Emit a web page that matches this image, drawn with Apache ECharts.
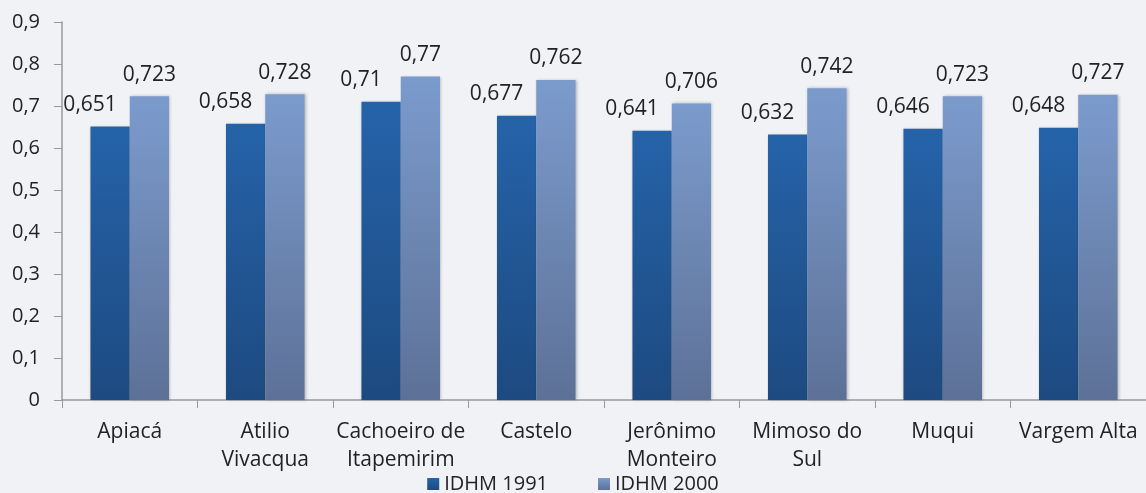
<!DOCTYPE html>
<html>
<head>
<meta charset="utf-8">
<script src="https://cdn.jsdelivr.net/npm/echarts@6/dist/echarts.min.js"></script>
<style>
  html, body { margin: 0; padding: 0; background: #f0f2f5; }
  #chart { width: 1146px; height: 493px; }
</style>
</head>
<body>
<div id="chart"></div>
<script>
var municipios = ['Apiacá', 'Atilio\nVivacqua', 'Cachoeiro de\nItapemirim', 'Castelo', 'Jerônimo\nMonteiro', 'Mimoso do\nSul', 'Muqui', 'Vargem Alta'];
var idhm1991 = [0.651, 0.658, 0.71, 0.677, 0.641, 0.632, 0.646, 0.648];
var idhm2000 = [0.723, 0.728, 0.77, 0.762, 0.706, 0.742, 0.723, 0.727];

var myChart = echarts.init(document.getElementById('chart'));

// virgula como separador decimal
function virgula(v) {
  return String(v).replace('.', ',');
}

var fonte = '"Open Sans", "Noto Sans", sans-serif';

var option = {
  backgroundColor: '#f0f2f5',
  textStyle: { fontFamily: fonte },
  legend: {
    bottom: -6,
    left: 'center',
    itemWidth: 12,
    itemHeight: 12,
    itemGap: 50,
    icon: 'rect',
    textStyle: { fontSize: 20, color: '#222', fontFamily: fonte },
    data: ['IDHM 1991', 'IDHM 2000']
  },
  grid: {
    left: 62,
    right: 0,
    top: 22,
    bottom: 93
  },
  xAxis: {
    type: 'category',
    data: municipios,
    axisLine: { lineStyle: { color: '#999', width: 1.5 } },
    axisTick: { show: true, length: 8, lineStyle: { color: '#999' } },
    axisLabel: {
      color: '#222',
      fontSize: 21,
      lineHeight: 28,
      margin: 18,
      interval: 0,
      fontFamily: fonte
    }
  },
  yAxis: {
    type: 'value',
    min: 0,
    max: 0.9,
    interval: 0.1,
    axisLine: { show: true, lineStyle: { color: '#999', width: 1.5 } },
    axisTick: { show: true, length: 8, lineStyle: { color: '#999' } },
    splitLine: { show: false },
    axisLabel: {
      color: '#222',
      fontSize: 20,
      margin: 22,
      fontFamily: fonte,
      formatter: function (v) { return virgula(Math.round(v * 10) / 10); }
    }
  },
  series: [
    {
      name: 'IDHM 1991',
      type: 'bar',
      data: idhm1991,
      barGap: 0,
      barCategoryGap: '42%',
      itemStyle: {
        color: new echarts.graphic.LinearGradient(0, 0, 0, 1, [
          { offset: 0, color: '#2563a9' },
          { offset: 1, color: '#1d4a80' }
        ]),
        shadowColor: 'rgba(0,0,0,0.25)',
        shadowBlur: 3,
        shadowOffsetX: 1
      },
      label: {
        show: true,
        position: 'top',
        offset: [-20, -6],
        color: '#222',
        fontSize: 21,
        fontFamily: fonte,
        formatter: function (p) { return virgula(p.value); }
      }
    },
    {
      name: 'IDHM 2000',
      type: 'bar',
      data: idhm2000,
      itemStyle: {
        color: new echarts.graphic.LinearGradient(0, 0, 0, 1, [
          { offset: 0, color: '#7b9bcd' },
          { offset: 1, color: '#5d7197' }
        ]),
        shadowColor: 'rgba(0,0,0,0.25)',
        shadowBlur: 3,
        shadowOffsetX: 1
      },
      label: {
        show: true,
        position: 'top',
        offset: [0, -6],
        color: '#222',
        fontSize: 21,
        fontFamily: fonte,
        formatter: function (p) { return virgula(p.value); }
      }
    }
  ]
};

myChart.setOption(option);
</script>
</body>
</html>
